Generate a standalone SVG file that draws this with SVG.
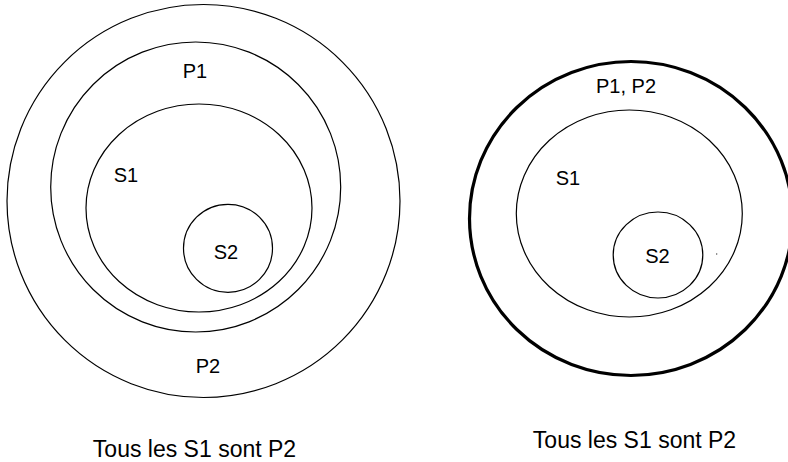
<svg xmlns="http://www.w3.org/2000/svg" width="788" height="462" viewBox="0 0 788 462">
<style>
.c{fill:none;stroke:#000;stroke-width:1.2}
.t{fill:none;stroke:#000;stroke-width:3.2}
.l{font-family:"Liberation Sans",Arial,sans-serif;font-size:20px;fill:#000;text-anchor:middle}
.b{font-family:"Liberation Sans",Arial,sans-serif;font-size:23px;fill:#000;text-anchor:middle}
</style>
<rect width="788" height="462" fill="#fff"/>
<g id="left">
<g id="left-P2"><circle class="c" cx="203.5" cy="201" r="196.5"/><text class="l" x="208" y="373">P2</text></g>
<g id="left-P1"><circle class="c" cx="195.7" cy="187" r="145"/><text class="l" x="195" y="78">P1</text></g>
<g id="left-S1"><ellipse class="c" cx="199" cy="208" rx="113" ry="104"/><text class="l" x="126" y="182">S1</text></g>
<g id="left-S2"><ellipse class="c" cx="228" cy="248.3" rx="44.5" ry="44"/><text class="l" x="226" y="259">S2</text></g>
<text id="left-caption" class="b" x="194.5" y="457">Tous les S1 sont P2</text>
</g>
<g id="right">
<g id="right-P1P2"><ellipse class="t" cx="631" cy="218.5" rx="161.5" ry="157"/><text class="l" x="626" y="93">P1, P2</text></g>
<g id="right-S1"><ellipse class="c" cx="629.3" cy="213.5" rx="113" ry="103.5"/><text class="l" x="568" y="185">S1</text></g>
<g id="right-S2"><ellipse class="c" cx="658" cy="255" rx="44.8" ry="43"/><text class="l" x="657.5" y="263">S2</text></g>
<circle cx="716.7" cy="254" r="0.7" fill="#444"/>
<text id="right-caption" class="b" x="634.5" y="448">Tous les S1 sont P2</text>
</g>
<g id="connectors"/>
</svg>
